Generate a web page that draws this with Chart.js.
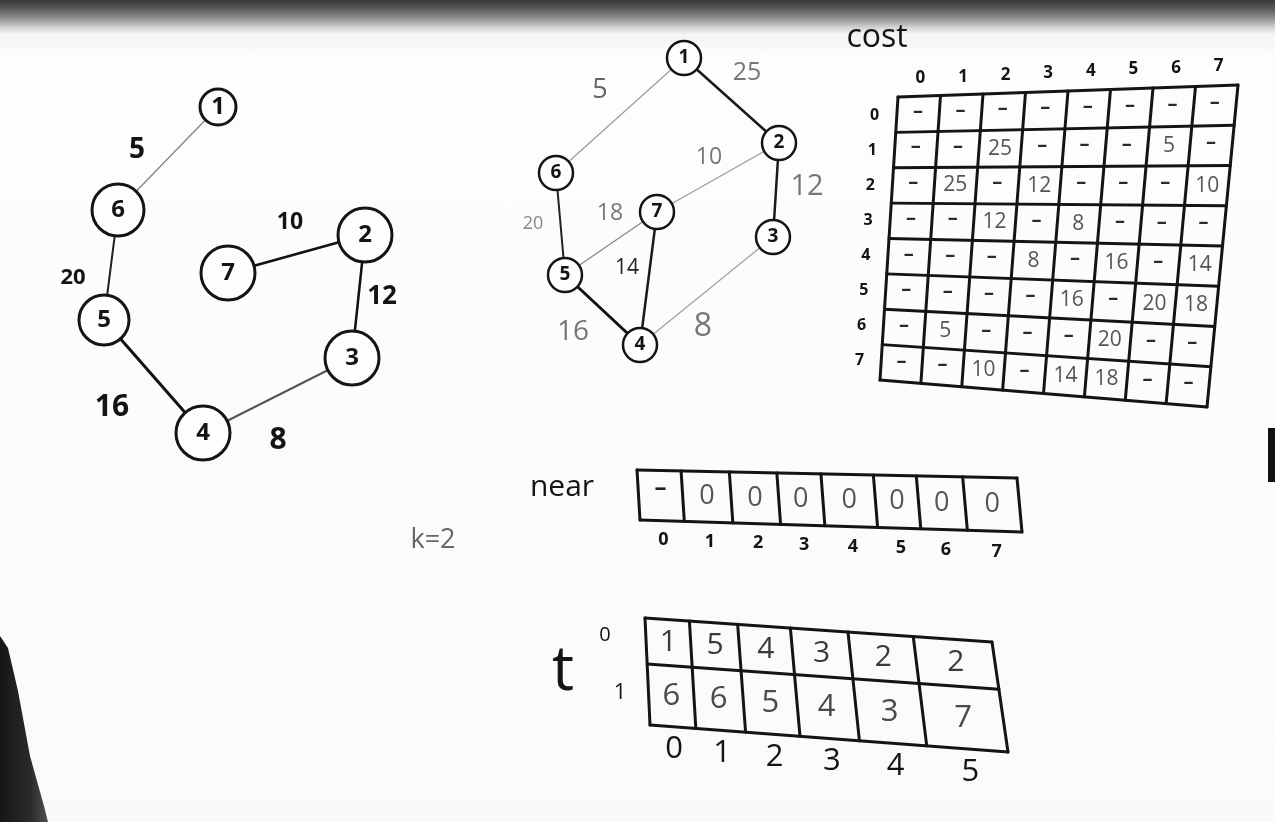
<!DOCTYPE html>
<html>
<head>
<meta charset="utf-8">
<title>Prim - cost / near / t</title>
<script src="https://cdn.jsdelivr.net/npm/chart.js@4.4.1/dist/chart.umd.min.js"></script>
<style>
  html, body { margin: 0; padding: 0; }
  body {
    width: 1275px; height: 822px; overflow: hidden;
    background:
      linear-gradient(#111, #111) 1268px 428px / 7px 54px no-repeat,
      linear-gradient(to bottom, #3a3a3a 0px, #565656 8px, #8e8e8e 18px, #d0d0d0 27px, #f4f4f4 34px, #fdfdfd 60px, #fafafa 100%);
  }
  #wrap { position: relative; width: 1275px; height: 822px; }
  #edge {
    position: absolute; left: 0; top: 636px; width: 50px; height: 186px;
    background: linear-gradient(to right, #161616, #2a2a2a 60%, #555);
    clip-path: polygon(0 0, 8px 12px, 18px 55px, 30px 120px, 44px 170px, 48px 186px, 0 186px);
  }
</style>
</head>
<body>
<div id="wrap"><div id="edge"></div><canvas id="board"></canvas></div>
<script>
const vertices = [1, 2, 3, 4, 5, 6, 7];
const costIndex = [0, 1, 2, 3, 4, 5, 6, 7];
// cost adjacency matrix, null = no edge (written "-")
const cost = [
  [null, null, null, null, null, null, null, null],
  [null, null, 25,   null, null, null, 5,    null],
  [null, 25,   null, 12,   null, null, null, 10  ],
  [null, null, 12,   null, 8,    null, null, null],
  [null, null, null, 8,    null, 16,   null, 14  ],
  [null, null, null, null, 16,   null, 20,   18  ],
  [null, 5,    null, null, null, 20,   null, null],
  [null, null, 10,   null, 14,   18,   null, null]
];
const nearIndex = [0, 1, 2, 3, 4, 5, 6, 7];
const near = ['-', 0, 0, 0, 0, 0, 0, 0];
const tIndex = [0, 1, 2, 3, 4, 5];
const tRowIndex = [0, 1];
const tRow0 = [1, 5, 4, 3, 2, 2];
const tRow1 = [6, 6, 5, 4, 3, 7];
const k = 2;

// ---- layout (board pixels) ----
const FONT = '"Open Sans", "DejaVu Sans", sans-serif';
const INK = '#141414';
const fullPos = {1: [684, 58], 2: [779, 143], 3: [773, 237], 4: [640, 345], 5: [565, 275], 6: [556, 173], 7: [657, 212]};
const treePos = {1: [218, 107], 2: [365, 235], 3: [352, 358], 4: [203, 433], 5: [104, 320], 6: [118, 210], 7: [228, 273]};
const treeRadius = {1: 18, 2: 27, 3: 27, 4: 27, 5: 25, 6: 26, 7: 27};
// weight label spot per edge: x, y, font size, colour
const fullLabel = {
  '1-2': [747, 73, 25, '#777'], '1-6': [600, 90, 27, '#666'], '2-3': [807, 187, 29, '#777'],
  '2-7': [709, 157, 23, '#777'], '3-4': [703, 327, 32, '#777'], '4-5': [573, 332, 28, '#777'],
  '4-7': [627, 268, 21, '#222'], '5-6': [533, 224, 18, '#888'], '5-7': [610, 213, 23, '#777']
};
const fullStyle = {
  '1-2': ['#1a1a1a', 2.5], '1-6': ['#9a9a9a', 1.2], '2-3': ['#1a1a1a', 2.5],
  '2-7': ['#9a9a9a', 1.2], '3-4': ['#a0a0a0', 1.3], '4-5': ['#111', 3],
  '4-7': ['#1a1a1a', 2.5], '5-6': ['#222', 2], '5-7': ['#8a8a8a', 1.4]
};
const treeLabel = {
  '1-6': [137, 150, 28, INK], '5-6': [73, 278, 22, INK], '4-5': [112, 407, 30, INK],
  '3-4': [278, 440, 30, INK], '2-3': [382, 297, 26, INK], '2-7': [290, 222, 23, INK]
};
const treeStyle = {
  '1-6': ['#8a8a8a', 1.5], '5-6': ['#222', 2], '4-5': ['#111', 3],
  '3-4': ['#555', 2], '2-3': ['#111', 2.5], '2-7': ['#111', 2.5]
};
// table outlines: TL, TR, BL, BR corners
const costQuad = [[898, 97], [1238, 85], [880, 380], [1207, 407]];
const nearQuad = [[637, 470], [1017, 478], [640, 520], [1022, 532]];
const tQuad = [[645, 618], [992, 642], [650, 725], [1008, 752]];
const nearColEdges = [0, .116, .243, .368, .484, .622, .735, .857, 1];
const tColEdges = [0, .128, .267, .419, .585, .773, 1];
const tRowEdges = [0, .43, 1];

function lerp(a, b, f) { return [a[0] + (b[0] - a[0]) * f, a[1] + (b[1] - a[1]) * f]; }
function quad(q, u, v) { return lerp(lerp(q[0], q[1], u), lerp(q[2], q[3], u), v); }
function key(a, b) { return Math.min(a, b) + '-' + Math.max(a, b); }
function mid(edges, i) { return (edges[i] + edges[i + 1]) / 2; }

const datasets = [];
const texts = [];

function seg(p, q, color, width, order) {
  datasets.push({
    data: [{x: p[0], y: p[1]}, {x: q[0], y: q[1]}],
    showLine: true, borderColor: color, borderWidth: width,
    borderCapStyle: 'round', pointRadius: 0, order: order
  });
}
function label(p, text, size, color, weight) {
  texts.push({x: p[0], y: p[1], text: String(text), size: size, color: color, weight: weight || 'normal'});
}

// original graph: edges from the upper half of the cost matrix
vertices.forEach(a => vertices.forEach(b => {
  if (b <= a || cost[a][b] === null) return;
  const kk = key(a, b), st = fullStyle[kk], lb = fullLabel[kk];
  seg(fullPos[a], fullPos[b], st[0], st[1], 1);
  label([lb[0], lb[1]], cost[a][b], lb[2], lb[3]);
}));
datasets.push({
  data: vertices.map(v => ({x: fullPos[v][0], y: fullPos[v][1]})),
  pointRadius: 17, pointBackgroundColor: '#fdfdfd', pointBorderColor: INK, pointBorderWidth: 2.5, order: 0
});
vertices.forEach(v => label(fullPos[v], v, 19, INK, 'bold'));

// spanning tree: edges are the columns of t
tIndex.forEach(i => {
  const a = tRow0[i], b = tRow1[i], kk = key(a, b), st = treeStyle[kk], lb = treeLabel[kk];
  seg(treePos[a], treePos[b], st[0], st[1], 1);
  label([lb[0], lb[1]], cost[a][b], lb[2], lb[3], 'bold');
});
datasets.push({
  data: vertices.map(v => ({x: treePos[v][0], y: treePos[v][1]})),
  pointRadius: vertices.map(v => treeRadius[v]), pointBackgroundColor: '#fdfdfd',
  pointBorderColor: INK, pointBorderWidth: 3, order: 0
});
vertices.forEach(v => label(treePos[v], v, 24, INK, 'bold'));

// cost matrix
const n = costIndex.length;
for (let i = 0; i <= n; i++) {
  seg(quad(costQuad, i / n, 0), quad(costQuad, i / n, 1), INK, 3, 2);
  seg(quad(costQuad, 0, i / n), quad(costQuad, 1, i / n), INK, 3, 2);
}
costIndex.forEach(r => costIndex.forEach(c => {
  const p = quad(costQuad, (c + .5) / n, (r + .5) / n);
  if (cost[r][c] === null) label([p[0], p[1] - 3], '–', 20, '#2a2a2a', 'bold');
  else label(p, cost[r][c], 21, '#555');
}));
costIndex.forEach(i => {
  label(quad(costQuad, (i + .5) / n, -0.062), i, 17, INK, 'bold');
  label(quad(costQuad, -0.066, (i + .5) / n), i, 16, INK, 'bold');
});
label([877, 38], 'cost', 32, INK);

// near array
nearColEdges.forEach(u => seg(quad(nearQuad, u, 0), quad(nearQuad, u, 1), INK, 3, 2));
seg(nearQuad[0], nearQuad[1], INK, 3, 2);
seg(nearQuad[2], nearQuad[3], INK, 3, 2);
nearIndex.forEach(i => {
  const u = mid(nearColEdges, i);
  const p = quad(nearQuad, u, .5);
  if (near[i] === '-') label([p[0], p[1] - 7], '–', 24, '#222', 'bold');
  else label(p, near[i], 27, '#555');
  label(quad(nearQuad, u, 1.38), i, 18, INK, 'bold');
});
label([562, 487], 'near', 30, INK);
label([433, 540], 'k=' + k, 27, '#666');

// t table
tColEdges.forEach(u => seg(quad(tQuad, u, 0), quad(tQuad, u, 1), INK, 3, 2));
tRowEdges.forEach(v => seg(quad(tQuad, 0, v), quad(tQuad, 1, v), INK, 3, 2));
tIndex.forEach(i => {
  const u = mid(tColEdges, i);
  label(quad(tQuad, u, mid(tRowEdges, 0)), tRow0[i], 30, '#3a3a3a');
  label(quad(tQuad, u, mid(tRowEdges, 1)), tRow1[i], 31, '#4a4a4a');
  label(quad(tQuad, u, 1.21), tIndex[i], 31, INK);
});
label([605, 635], tRowIndex[0], 20, INK);
label([620, 693], tRowIndex[1], 22, INK);
label([563, 672], 't', 62, INK);

const boardText = {
  id: 'boardText',
  afterDatasetsDraw(chart) {
    const {ctx, scales: {x, y}} = chart;
    ctx.save();
    ctx.textAlign = 'center';
    ctx.textBaseline = 'middle';
    texts.forEach(t => {
      ctx.font = t.weight + ' ' + t.size + 'px ' + FONT;
      ctx.fillStyle = t.color;
      ctx.fillText(t.text, x.getPixelForValue(t.x), y.getPixelForValue(t.y));
    });
    ctx.restore();
  }
};

new Chart(document.getElementById('board'), {
  type: 'scatter',
  data: {datasets: datasets},
  options: {
    responsive: true,
    maintainAspectRatio: false,
    animation: false,
    events: [],
    layout: {padding: 0, autoPadding: false},
    plugins: {legend: {display: false}, tooltip: {enabled: false}},
    scales: {
      x: {type: 'linear', min: 0, max: 1275, display: false},
      y: {type: 'linear', min: 0, max: 822, reverse: true, display: false}
    }
  },
  plugins: [boardText]
});
</script>
</body>
</html>
